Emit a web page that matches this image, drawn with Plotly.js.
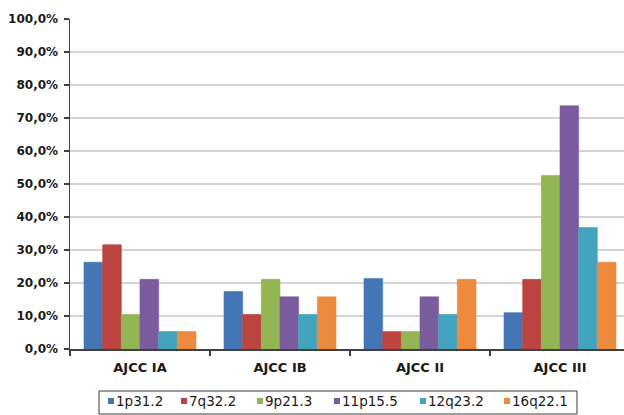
<!DOCTYPE html>
<html>
<head>
<meta charset="utf-8">
<script src="https://cdn.plot.ly/plotly-3.0.1.min.js"></script>
<style>
  html, body { margin: 0; padding: 0; overflow: hidden; background: #ffffff; }
  #chart { width: 630px; height: 415px; }
</style>
</head>
<body>
<div id="chart"></div>
<script>
// AJCC stage groups on the category axis
const stages = ['AJCC IA', 'AJCC IB', 'AJCC II', 'AJCC III'];

// Share of cases (%) with each locus, per stage
const loc1p31_2  = [26.3, 17.4, 21.4, 11.0];
const loc7q32_2  = [31.6, 10.5,  5.3, 21.1];
const loc9p21_3  = [10.5, 21.1,  5.3, 52.6];
const loc11p15_5 = [21.1, 15.8, 15.8, 73.7];
const loc12q23_2 = [ 5.3, 10.5, 10.5, 36.8];
const loc16q22_1 = [ 5.3, 15.8, 21.1, 26.3];

const seriesNames = ['1p31.2', '7q32.2', '9p21.3', '11p15.5', '12q23.2', '16q22.1'];
const seriesValues = [loc1p31_2, loc7q32_2, loc9p21_3, loc11p15_5, loc12q23_2, loc16q22_1];

const colours = ['#4476B6', '#BC4541', '#93B553', '#7A5C9F', '#43A4C0', '#EC8A3E'];

// Plot area geometry in page pixels (left, top, width, height)
const plotLeft = 70, plotTop = 19, plotW = 560, plotH = 330;
const pxX = px => (px - plotLeft) / plotW;
const pxY = py => (plotTop + plotH - py) / plotH;

// Legend strip below the axis: swatch left edges (px)
const swatchLeft = [108, 181, 257, 334, 420, 504];
const legendMidY = 401;

const traces = seriesNames.map((name, i) => ({
  type: 'bar',
  name: name,
  x: stages,
  y: seriesValues[i],
  marker: { color: colours[i], line: { color: colours[i], width: 0.6 } },
  hoverinfo: 'x+y+name'
}));

const shapes = [
  // legend frame
  {
    type: 'rect', xref: 'paper', yref: 'paper',
    x0: pxX(99), x1: pxX(577), y0: pxY(391), y1: pxY(414),
    line: { color: '#3a3a3a', width: 1 }, fillcolor: 'rgba(0,0,0,0)'
  }
];
const annotations = [];
seriesNames.forEach((name, i) => {
  shapes.push({
    type: 'rect', xref: 'paper', yref: 'paper',
    x0: pxX(swatchLeft[i]), x1: pxX(swatchLeft[i] + 6),
    y0: pxY(legendMidY - 3), y1: pxY(legendMidY + 3),
    line: { width: 0 }, fillcolor: colours[i]
  });
  annotations.push({
    xref: 'paper', yref: 'paper',
    x: pxX(swatchLeft[i] + 6), y: pxY(legendMidY),
    xanchor: 'left', yanchor: 'middle',
    text: name, showarrow: false,
    font: { family: 'DejaVu Sans', size: 13.5, color: '#1a1a1a' }
  });
});

const layout = {
  width: 630,
  height: 415,
  margin: { l: plotLeft, r: 0, t: plotTop, b: 415 - plotTop - plotH, pad: 0 },
  paper_bgcolor: '#ffffff',
  plot_bgcolor: '#ffffff',
  separators: ',.',
  barmode: 'group',
  bargap: 0.2,
  bargroupgap: 0,
  showlegend: false,
  xaxis: {
    type: 'category',
    showline: true, linecolor: '#404040', linewidth: 1.5,
    ticks: 'outside', tickson: 'boundaries', ticklen: 5, tickcolor: '#404040', tickwidth: 1.5,
    showgrid: false, zeroline: false,
    ticklabelstandoff: 6,
    tickfont: { family: 'DejaVu Sans', size: 13, color: '#1a1a1a', weight: 'bold' }
  },
  yaxis: {
    range: [0, 100], dtick: 10, tick0: 0,
    tickformat: '.1f', ticksuffix: '%',
    showline: true, linecolor: '#404040', linewidth: 1.5,
    ticks: 'outside', ticklen: 5, tickcolor: '#404040', tickwidth: 1.5,
    showgrid: true, gridcolor: '#d4d4d4', gridwidth: 1.4,
    zeroline: false,
    ticklabelstandoff: 3,
    tickfont: { family: 'DejaVu Sans', size: 12, color: '#1a1a1a', weight: 'bold' }
  },
  shapes: shapes,
  annotations: annotations
};

Plotly.newPlot('chart', traces, layout, { displayModeBar: false, staticPlot: true });
</script>
</body>
</html>
